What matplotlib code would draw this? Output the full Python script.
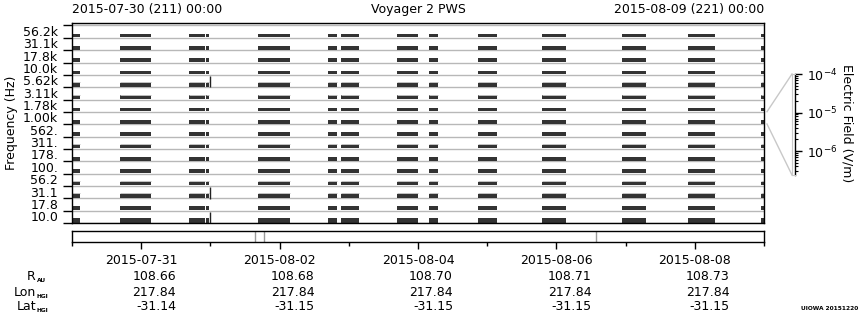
import matplotlib
matplotlib.use('Agg')
import matplotlib.pyplot as plt
import matplotlib.transforms as mtransforms
from matplotlib.lines import Line2D
from matplotlib.ticker import LogLocator, NullFormatter, LogFormatterSciNotation
import numpy as np

# ---------------- data ----------------
freq_labels = ['10.0', '17.8', '31.1', '56.2', '100.', '178.', '311.', '562.',
               '1.00k', '1.78k', '3.11k', '5.62k', '10.0k', '17.8k', '31.1k', '56.2k']
# data intervals (days since 2015-07-30 00:00)
seg_start = [0.00, 0.69, 1.69, 1.94, 2.69, 3.70, 3.89, 4.70, 5.16, 5.87, 6.79, 7.95, 8.90, 9.96]
seg_end   = [0.12, 1.14, 1.92, 1.98, 3.15, 3.83, 4.15, 5.00, 5.29, 6.14, 7.14, 8.30, 9.29, 10.00]
faint_rows = [2, 3, 6, 10, 11]
vline_day = 1.98
vline_spans = [(11.0, 11.9), (1.95, 2.9), (0.0, 0.9)]
gap_days = [2.645, 2.775, 7.572]
tick_days = [1, 3, 5, 7, 9]
minor_days = [0, 2, 4, 6, 8, 10]
tick_dates = ['2015-07-31', '2015-08-02', '2015-08-04', '2015-08-06', '2015-08-08']
r_au = ['108.66', '108.68', '108.70', '108.71', '108.73']
lon_hgi = ['217.84', '217.84', '217.84', '217.84', '217.84']
lat_hgi = ['-31.14', '-31.15', '-31.15', '-31.15', '-31.15']

W, H = 860, 320
FS = 9
fig = plt.figure(figsize=(W / 100, H / 100), dpi=100)


def px_axes(x0, y0, x1, y1):
    return fig.add_axes([x0 / W, 1 - y1 / H, (x1 - x0) / W, (y1 - y0) / H])


def fy(y):
    return 1 - y / H


# ---------------- main panel ----------------
ax = px_axes(72, 23, 764, 223)
ax.set_xlim(0, 10)
ax.set_ylim(0, 16.2)
for i in range(17):
    ax.axhline(i, color='#b8b8b8', lw=1.0, zorder=1)
bar_color = '#333333'
for i in range(16):
    h = 0.38 if i == 0 else 0.30
    ax.broken_barh([(s, e - s) for s, e in zip(seg_start, seg_end)], (i + 0.04, h),
                   facecolor=bar_color, edgecolor='none', zorder=2)
    if i in faint_rows:
        ax.hlines([i + 0.40] * len(seg_start), seg_start, seg_end,
                  color='#c0c0c0', lw=0.7, zorder=2)
for y0, y1 in vline_spans:
    ax.vlines(vline_day + 0.02, y0, y1, color='#222222', lw=1.0, zorder=3)

ax.set_xticks([])
ax.set_yticks(range(17))
ax.set_yticklabels([])
ax.tick_params(axis='y', which='major', length=6.5, width=1, direction='out')
ax.set_yticks(np.arange(16) + 0.55, labels=freq_labels, minor=True)
ax.tick_params(axis='y', which='minor', length=0, pad=10, labelsize=FS)
for sp in ax.spines.values():
    sp.set_color('black')
    sp.set_linewidth(1.0)

fig.text(12 / W, fy(123), 'Frequency (Hz)', rotation=90, ha='center', va='center', fontsize=FS)
fig.text(72 / W, fy(9), '2015-07-30 (211) 00:00', ha='left', va='center', fontsize=FS)
fig.text(418 / W, fy(10), 'Voyager 2 PWS', ha='center', va='center', fontsize=FS)
fig.text(764 / W, fy(9), '2015-08-09 (221) 00:00', ha='right', va='center', fontsize=FS)

# ---------------- strip / time axis ----------------
sax = px_axes(72, 231, 764, 242)
sax.set_xlim(0, 10)
sax.set_ylim(0, 1)
sax.set_yticks([])
for d in gap_days:
    sax.axvline(d, color='#999999', lw=1.0)
sax.set_xticks(tick_days)
sax.set_xticklabels([])
sax.set_xticks(minor_days, minor=True)
sax.tick_params(axis='x', which='major', length=5, width=1, direction='out')
sax.tick_params(axis='x', which='minor', length=3.2, width=1, direction='out')
for sp in sax.spines.values():
    sp.set_linewidth(1.0)

trans = mtransforms.blended_transform_factory(sax.transData, fig.transFigure)
trans_r = mtransforms.offset_copy(trans, fig=fig, x=35, y=0, units='dots')
for d, lab, r, lo, la in zip(tick_days, tick_dates, r_au, lon_hgi, lat_hgi):
    sax.text(d, fy(261), lab, transform=trans, ha='center', va='center', fontsize=FS)
    sax.text(d, fy(277), r, transform=trans_r, ha='right', va='center', fontsize=FS)
    sax.text(d, fy(292), lo, transform=trans_r, ha='right', va='center', fontsize=FS)
    sax.text(d, fy(307), la, transform=trans_r, ha='right', va='center', fontsize=FS)

for y, main, sub in [(277, 'R', 'AU'), (292, 'Lon', 'HGI'), (307, 'Lat', 'HGI')]:
    fig.text(36 / W, fy(y), main, ha='right', va='center', fontsize=FS)
    fig.text(36.5 / W, fy(y + 4), sub, ha='left', va='center', fontsize=4.2, weight='bold')

fig.text(858 / W, fy(309), 'UIOWA 20151220', ha='right', va='center', fontsize=4.2, weight='bold')

# ---------------- colour scale axis ----------------
cax = px_axes(792, 74, 795, 175)
cax.set_yscale('log')
cax.set_ylim(10 ** -6.62, 1e-4)
cax.set_xticks([])
cax.yaxis.tick_right()
cax.yaxis.set_major_locator(LogLocator(base=10, numticks=10))
cax.yaxis.set_major_formatter(LogFormatterSciNotation())
cax.yaxis.set_minor_locator(LogLocator(base=10, subs=np.arange(2, 10), numticks=20))
cax.yaxis.set_minor_formatter(NullFormatter())
cax.tick_params(axis='y', which='major', length=5, width=1, pad=3.5, labelsize=FS)
cax.tick_params(axis='y', which='minor', length=2.5, width=0.8)
for name, sp in cax.spines.items():
    if name == 'right':
        sp.set_color('black')
        sp.set_linewidth(1.0)
    else:
        sp.set_color('#c8c8c8')
        sp.set_linewidth(0.8)
fig.text(847 / W, fy(123), 'Electric Field (V/m)', rotation=-90, ha='center', va='center', fontsize=FS)

fig.add_artist(Line2D([767 / W, 792 / W], [fy(111.7), fy(74)], transform=fig.transFigure,
                      color='#c8c8c8', lw=1.0))
fig.add_artist(Line2D([767 / W, 792 / W], [fy(124), fy(175)], transform=fig.transFigure,
                      color='#c8c8c8', lw=1.0))

fig.savefig('out.png', dpi=100)
